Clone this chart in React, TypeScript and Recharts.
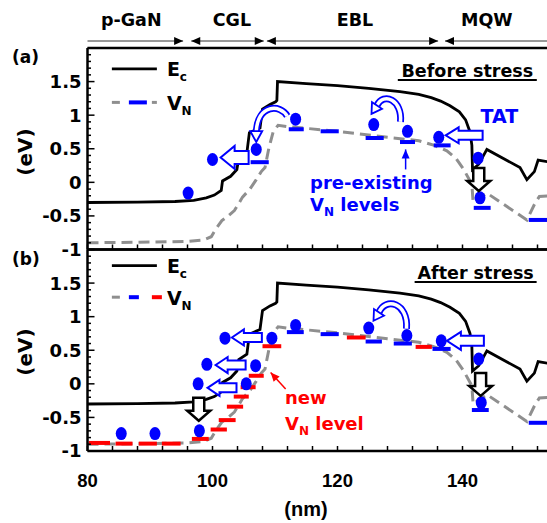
import React from "react";
import { ComposedChart, Line, Scatter, XAxis, YAxis, ReferenceLine, ReferenceDot } from "recharts";

// layout of the two stacked panels
const W = 547;
const H = 523;
const X_MIN = 80;
const X_MAX = 154;
const PLOT_LEFT = 87.5;
const CHART_W = 550;
const PX_PER_NM = (CHART_W - PLOT_LEFT) / (X_MAX - X_MIN);
const SANS = "'DejaVu Sans', sans-serif";
const ARIAL = "'Liberation Sans', Arial, sans-serif";
const BLUE = "#0000ff";
const RED = "#ff0000";
const GRAY = "#8f8f8f";

const xTicks = [80, 84, 88, 92, 96, 100, 104, 108, 112, 116, 120, 124, 128, 132, 136, 140, 144, 148, 152];
const xTickLabels = [80, 100, 120, 140];
const yTicks = [
  -1, -0.9, -0.8, -0.7, -0.6, -0.5, -0.4, -0.3, -0.2, -0.1, 0, 0.1, 0.2, 0.3, 0.4, 0.5,
  0.6, 0.7, 0.8, 0.9, 1, 1.1, 1.2, 1.3, 1.4, 1.5, 1.6, 1.7, 1.8, 1.9, 2,
];
const yTickLabels = [-1, -0.5, 0, 0.5, 1, 1.5];

// layers along the top
const regionNames = ["p-GaN", "CGL", "EBL", "MQW"];
const regionLabelNm = [87, 103.1, 122.8, 143.9];
const regionFrom = [80, 96.6, 108.7, 137.2];
const regionTo = [95.3, 108.2, 136.1, 154];

// conduction band edge E_c
const ecNm = [80, 88, 94, 97, 99, 100.3, 101.4, 101.6, 102.9, 103.9, 104.2, 105.5, 105.9, 107.6, 108.0, 109.2, 110.1, 110.3, 110.4, 115, 120, 125, 130, 133, 135, 136.5, 138, 139.5, 140.5, 141.2, 141.5, 141.6, 142.6, 143.9, 149.2, 150.3, 151.5, 152.1, 154];
const ecEv = [-0.30, -0.295, -0.285, -0.27, -0.23, -0.19, -0.12, 0.02, 0.09, 0.19, 0.36, 0.44, 0.74, 0.81, 1.09, 1.16, 1.20, 1.22, 1.50, 1.47, 1.44, 1.40, 1.35, 1.31, 1.26, 1.21, 1.14, 1.05, 0.93, 0.75, 0.55, 0.19, 0.27, 0.49, 0.22, 0.04, 0.16, 0.33, 0.30];

// V_N energy (gray dashed)
const vnNm = [80, 90, 96, 98.5, 99.8, 100.5, 101.5, 102.5, 103.5, 104.3, 104.8, 106, 107, 107.8, 108.4, 109, 109.7, 110.5, 112, 120, 128, 133, 135.5, 137.5, 139, 140.2, 141.5, 141.7, 143.9, 150.3, 151.5, 152.3, 154];
const vnEv = [-0.90, -0.89, -0.88, -0.86, -0.81, -0.70, -0.57, -0.50, -0.42, -0.30, -0.22, -0.10, 0.04, 0.16, 0.22, 0.50, 0.75, 0.85, 0.83, 0.76, 0.67, 0.62, 0.55, 0.47, 0.35, 0.19, -0.03, -0.30, -0.16, -0.56, -0.33, -0.21, -0.20];

// (a) before stress
const aDotNm = [96.1, 100, 107, 113.3, 125.8, 131.2, 136.2, 142.5, 142.8];
const aDotEv = [-0.16, 0.34, 0.49, 0.94, 0.86, 0.76, 0.67, 0.36, -0.23];
const aBlueFrom = [106.1, 112.2, 117.3, 124.5, 130.0, 135.4, 141.8, 150.6];
const aBlueTo = [109.0, 114.6, 120.2, 127.4, 132.4, 138.1, 144.5, 154];
const aBlueEv = [0.30, 0.79, 0.76, 0.66, 0.60, 0.55, -0.38, -0.56];

// (b) after stress
const bDotNm = [85.4, 90.8, 97.9, 97.7, 99.1, 102, 105.4, 106.9, 109.5, 113.3, 125, 131.1, 136.6, 142.6, 143];
const bDotEv = [-0.74, -0.74, -0.70, 0, 0.29, 0.68, 0, 0.27, 0.68, 0.87, 0.83, 0.72, 0.64, 0.37, -0.28];
const bBlueFrom = [111.9, 117.3, 124.5, 129.0, 135.2, 141.5, 150.6];
const bBlueTo = [114.6, 120.2, 127.1, 131.9, 138.1, 144.2, 154];
const bBlueEv = [0.77, 0.74, 0.63, 0.60, 0.52, -0.39, -0.58];
const bRedFrom = [80.2, 84.5, 88.2, 91.9, 96.7, 99.7, 101.0, 102.3, 103.4, 104.5, 105.8, 108.0, 121.5, 132.5];
const bRedTo = [83.6, 87.2, 91.1, 94.9, 99.4, 102.3, 103.7, 104.9, 105.8, 106.9, 108.2, 111.0, 124.5, 135.1];
const bRedEv = [-0.88, -0.89, -0.89, -0.89, -0.82, -0.68, -0.54, -0.34, -0.19, -0.05, 0.12, 0.56, 0.69, 0.55];

const pts = (xs: number[], ys: number[]) => xs.map((x, i) => ({ x, y: ys[i] }));
const levels = (f: number[], t: number[], e: number[]) => f.map((from, i) => ({ from, to: t[i], ev: e[i] }));

const ecData = pts(ecNm, ecEv);
const vnData = pts(vnNm, vnEv);

const xPx = (nm: number) => PLOT_LEFT + (nm - X_MIN) * PX_PER_NM;

const isMajorY = (v: number) => Math.abs(v * 2 - Math.round(v * 2)) < 1e-6;

function YTick(props: any) {
  const { x, y, payload } = props;
  const ax = x + 10;
  const v = payload.value;
  const major = isMajorY(v);
  return (
    <g>
      <line x1={ax} x2={ax + (major ? 7 : 3.5)} y1={y} y2={y} stroke="#000" strokeWidth={1.5} />
      {yTickLabels.some((t) => Math.abs(t - v) < 1e-6) && (
        <text x={ax - 6} y={y} dy="0.36em" textAnchor="end" fontFamily={SANS} fontWeight="bold" fontSize={18} fill="#000">
          {v === 0 ? "0" : String(v)}
        </text>
      )}
    </g>
  );
}

const makeXTick = (labels: boolean) => (props: any) => {
  const { x, y, payload } = props;
  return (
    <g>
      <line x1={x} x2={x} y1={y} y2={y - 5} stroke="#000" strokeWidth={1.5} />
      {labels && xTickLabels.includes(payload.value) && (
        <text x={x} y={y + 36} textAnchor="middle" fontFamily={ARIAL} fontWeight="bold" fontSize={18.5} fill="#000">
          {payload.value}
        </text>
      )}
    </g>
  );
};

const dotShape = (p: any) => <ellipse cx={p.cx} cy={p.cy} rx={5.5} ry={6.5} fill={BLUE} />;

const at = (key: string, x: number, y: number, draw: (cx: number, cy: number) => React.ReactElement) => (
  <ReferenceDot key={key} x={x} y={y} r={0} ifOverflow="visible" shape={(p: any) => draw(p.cx, p.cy)} />
);

const poly = (cx: number, cy: number, p: number[][]) => p.map(([dx, dy]) => `${cx + dx},${cy + dy}`).join(" ");

const leftArrow = (len: number, head: number, hh: number, sh: number) => (cx: number, cy: number) => (
  <polygon
    points={poly(cx, cy, [[0, 0], [head, -hh], [head, -sh], [len, -sh], [len, sh], [head, sh], [head, hh]])}
    fill="#fff" stroke={BLUE} strokeWidth={2}
  />
);

const downArrow = (cx: number, cy: number) => (
  <polygon
    points={poly(cx, cy, [[0, 0], [-11.5, -10], [-5.5, -10], [-5.5, -23], [5.5, -23], [5.5, -10], [11.5, -10]])}
    fill="#fff" stroke="#000" strokeWidth={2.5}
  />
);

const curved = (d: string, head: number[][]) => (cx: number, cy: number) => (
  <g transform={`translate(${cx},${cy})`}>
    <path d={d} fill="none" stroke={BLUE} strokeWidth={7} />
    <path d={d} fill="none" stroke="#fff" strokeWidth={3.5} />
    <polygon points={poly(0, 0, head)} fill="#fff" stroke={BLUE} strokeWidth={1.8} />
  </g>
);

const thinArrow = (dx: number, dy: number, head: number[][], color: string) => (cx: number, cy: number) => (
  <g>
    <line x1={cx} y1={cy} x2={cx + dx} y2={cy + dy} stroke={color} strokeWidth={1.5} />
    <polygon points={poly(cx, cy, head)} fill={color} />
  </g>
);

const label = (text: React.ReactNode, color: string, size: number, anchor = "start") => (cx: number, cy: number) => (
  <text x={cx} y={cy} fill={color} fontFamily={SANS} fontWeight="bold" fontSize={size} textAnchor={anchor}>
    {text}
  </text>
);

const titled = (text: string, half: number) => (cx: number, cy: number) => (
  <g>
    <text x={cx} y={cy} fill="#000" fontFamily={SANS} fontWeight="bold" fontSize={17.5} textAnchor="middle">
      {text}
    </text>
    <line x1={cx - half} x2={cx + half} y1={cy + 3} y2={cy + 3} stroke="#000" strokeWidth={2} />
  </g>
);

const sub = (main: string, s: string, rest = "") => (
  <>
    {main}
    <tspan fontSize={12} dy={5}>{s}</tspan>
    {rest && <tspan dy={-5}>{rest}</tspan>}
  </>
);

const ecLegend = (cx: number, cy: number) => (
  <g>
    <line x1={cx} x2={cx + 45} y1={cy} y2={cy} stroke="#000" strokeWidth={2.8} />
    <text x={cx + 55} y={cy + 7} fontFamily={SANS} fontWeight="bold" fontSize={19}>{sub("E", "c")}</text>
  </g>
);

const vnLegend = (after: boolean) => (cx: number, cy: number) => (
  <g>
    <line x1={cx} x2={cx + 8} y1={cy} y2={cy} stroke={GRAY} strokeWidth={3} />
    {after ? (
      <>
        <line x1={cx + 17} x2={cx + 27} y1={cy} y2={cy} stroke={BLUE} strokeWidth={4} />
        <line x1={cx + 40} x2={cx + 50} y1={cy} y2={cy} stroke={RED} strokeWidth={4} />
      </>
    ) : (
      <>
        <line x1={cx + 17} x2={cx + 35} y1={cy} y2={cy} stroke={BLUE} strokeWidth={4} />
        <line x1={cx + 40} x2={cx + 45} y1={cy} y2={cy} stroke={GRAY} strokeWidth={3} />
      </>
    )}
    <text x={cx + 55} y={cy + 8} fontFamily={SANS} fontWeight="bold" fontSize={19}>{sub("V", "N")}</text>
  </g>
);

const levelLines = (ls: { from: number; to: number; ev: number }[], color: string, key: string) =>
  ls.map((l, i) => (
    <ReferenceLine
      key={`${key}${i}`}
      segment={[{ x: l.from, y: l.ev }, { x: l.to, y: l.ev }]}
      stroke={color}
      strokeWidth={4}
      ifOverflow="visible"
    />
  ));

function Panel({ top, height, bottom, xAxisH, labels, children }: any) {
  return (
    <div style={{ position: "absolute", left: 0, top: 0 }}>
      <ComposedChart width={CHART_W} height={height} margin={{ top, right: 0, bottom, left: PLOT_LEFT - 60 }}>
        <XAxis
          type="number"
          dataKey="x"
          domain={[X_MIN, X_MAX]}
          allowDataOverflow
          ticks={xTicks}
          interval={0}
          height={xAxisH}
          tickSize={0}
          tickMargin={0}
          tickLine={false}
          axisLine={{ stroke: "#000", strokeWidth: 2.5 }}
          tick={makeXTick(labels)}
        />
        <YAxis
          type="number"
          dataKey="y"
          domain={[-1, 2]}
          allowDataOverflow
          ticks={yTicks}
          interval={0}
          width={60}
          tickSize={0}
          tickMargin={10}
          tickLine={false}
          axisLine={{ stroke: "#000", strokeWidth: 2.5 }}
          tick={<YTick />}
        />
        <ReferenceLine y={2} stroke="#000" strokeWidth={2.5} ifOverflow="visible" />
        <Line data={vnData} dataKey="y" type="linear" stroke={GRAY} strokeWidth={3} strokeDasharray="11 6" dot={false} activeDot={false} isAnimationActive={false} />
        <Line data={ecData} dataKey="y" type="linear" stroke="#000" strokeWidth={2.8} dot={false} activeDot={false} isAnimationActive={false} />
        {children}
      </ComposedChart>
    </div>
  );
}

export default function App() {
  const aBlue = levels(aBlueFrom, aBlueTo, aBlueEv);
  const bBlue = levels(bBlueFrom, bBlueTo, bBlueEv);
  const bRed = levels(bRedFrom, bRedTo, bRedEv);
  const headDL = [[0, 0], [10.5, -5], [0.5, -11.6]];

  return (
    <div style={{ position: "absolute", left: 0, top: 0, width: W, height: H, background: "#fff", overflow: "hidden" }}>
      <Panel top={48} height={260} bottom={0.5} xAxisH={10} labels={false}>
        {levelLines(aBlue, BLUE, "ab")}
        <Scatter data={pts(aDotNm, aDotEv)} dataKey="y" shape={dotShape} isAnimationActive={false} />
        {at("leg1", 83.9, 1.69, ecLegend)}
        {at("leg2", 83.9, 1.19, vnLegend(false))}
        {at("title", 140.77, 1.57, titled("Before stress", 69.5))}
        {at("ar1", 101.3, 0.37, leftArrow(28, 14, 11.5, 6.5))}
        {at("ar2", 137.3, 0.70, leftArrow(37, 13, 8, 4.5))}
        {at("dn1", 142.6, -0.13, downArrow)}
        {at("cv1", 107.0, 0.60, curved("M 31 -26 C 24 -38, 2 -38, 0 -11", [[0, 0], [-6, -11], [6, -11]]))}
        {at("cv2", 125.44, 1.02, curved("M 29 8 C 31 -14, 12 -22, 5.5 -8.3", headDL))}
        {at("pe", 130.9, 0.49, thinArrow(0, 20, [[0, 0], [-4, 9], [4, 9]], BLUE))}
        {at("tat", 145.9, 0.88, label("TAT", BLUE, 19, "middle"))}
        {at("t1", 115.6, -0.1, label("pre-existing", BLUE, 18))}
        {at("t2", 115.6, -0.43, label(sub("V", "N", " levels"), BLUE, 18))}
      </Panel>
      <Panel top={249.5} height={H} bottom={32} xAxisH={40} labels>
        {levelLines(bRed, RED, "br")}
        {levelLines(bBlue, BLUE, "bb")}
        <Scatter data={pts(bDotNm, bDotEv)} dataKey="y" shape={dotShape} isAnimationActive={false} />
        {at("leg1", 83.9, 1.76, ecLegend)}
        {at("leg2", 83.9, 1.29, vnLegend(true))}
        {at("title", 142.1, 1.56, titled("After stress", 61))}
        {at("ar1", 103.1, 0.69, leftArrow(30, 12, 8, 4.5))}
        {at("ar2", 100.5, 0.28, leftArrow(30, 12, 8, 4.5))}
        {at("ar3", 99.2, -0.06, leftArrow(29, 12, 8, 4.5))}
        {at("ar4", 137.5, 0.64, leftArrow(37, 14, 9, 5))}
        {at("dn1", 97.8, -0.55, downArrow)}
        {at("dn2", 142.9, -0.18, downArrow)}
        {at("cv1", 125.76, 0.94, curved("M 33 8 C 35 -18, 12 -24, 5.5 -8.3", headDL))}
        {at("ra", 109.3, 0.17, thinArrow(15, 16.6, [[0, 0], [9, 4], [3, 9.4]], RED))}
        {at("t1", 111.6, -0.30, label("new", RED, 18))}
        {at("t2", 111.6, -0.68, label(sub("V", "N", " level"), RED, 18))}
      </Panel>
      <svg width={W} height={H} style={{ position: "absolute", left: 0, top: 0, pointerEvents: "none" }}>
        {regionNames.map((n, i) => (
          <text key={n} x={xPx(regionLabelNm[i])} y={26} textAnchor="middle" fontFamily={SANS} fontWeight="bold" fontSize={17.5}>
            {n}
          </text>
        ))}
        {regionFrom.map((f, i) => {
          const x1 = xPx(f);
          const x2 = Math.min(xPx(regionTo[i]), W + 2);
          return (
            <g key={i}>
              <line x1={x1} x2={x2} y1={41} y2={41} stroke="#333" strokeWidth={1} />
              {i > 0 && <polygon points={`${x1},41 ${x1 + 9},37 ${x1 + 9},45`} fill="#000" />}
              {i < regionFrom.length - 1 && <polygon points={`${x2},41 ${x2 - 9},37 ${x2 - 9},45`} fill="#000" />}
            </g>
          );
        })}
        <text x={12} y={63} fontFamily={SANS} fontWeight="bold" fontSize={17}>(a)</text>
        <text x={12} y={265} fontFamily={SANS} fontWeight="bold" fontSize={17}>(b)</text>
        <text transform="translate(32,152) rotate(-90)" textAnchor="middle" fontFamily={SANS} fontWeight="bold" fontSize={20}>(eV)</text>
        <text transform="translate(32,352) rotate(-90)" textAnchor="middle" fontFamily={SANS} fontWeight="bold" fontSize={20}>(eV)</text>
        <text x={306} y={516} textAnchor="middle" fontFamily={ARIAL} fontWeight="bold" fontSize={20}>(nm)</text>
      </svg>
    </div>
  );
}
